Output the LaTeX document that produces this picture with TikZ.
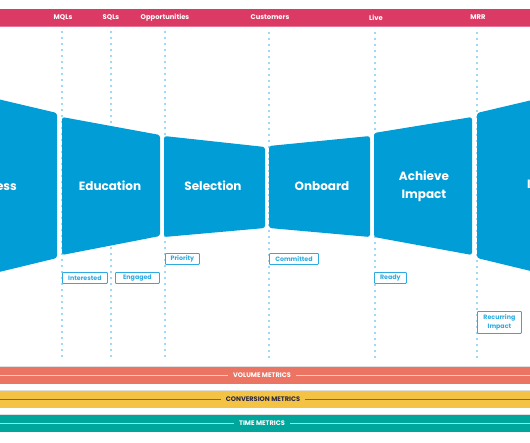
\documentclass[tikz,border=0pt]{standalone}
\usepackage{fontspec}
\setmainfont{Poppins}
\definecolor{pinkbar}{RGB}{218,58,99}
\definecolor{funnel}{RGB}{0,157,214}
\definecolor{dotc}{RGB}{60,178,230}
\definecolor{lblc}{RGB}{45,170,225}
\definecolor{coral}{RGB}{236,116,99}
\definecolor{gold}{RGB}{245,195,67}
\definecolor{tealc}{RGB}{0,166,156}
\definecolor{navy}{RGB}{40,40,70}
\begin{document}
\begin{tikzpicture}[x=1pt,y=-1pt,
  seg/.style={fill=funnel, rounded corners=2.5pt},
  segtext/.style={text=white, font=\bfseries\fontsize{12}{18}\selectfont, align=center, inner sep=0pt},
  toptext/.style={text=white, font=\bfseries\fontsize{6.8}{7}\selectfont, inner sep=0pt},
  dots/.style={dotc, line width=1.6pt, dash pattern=on 0pt off 6pt, line cap=round},
  tag/.style={draw=lblc, line width=0.8pt, fill=white, text=lblc, font=\bfseries\fontsize{6.3}{9}\selectfont, align=center, inner sep=0pt, minimum height=11pt, anchor=north west, rounded corners=0.8pt},
  band/.style={draw=black!12, line width=0.6pt},
  bandtext/.style={font=\bfseries\fontsize{6.6}{7}\selectfont, inner xsep=5pt, inner ysep=0pt},
  lightline/.style={white!65!#1, line width=0.8pt},
]
\useasboundingbox (0,0) rectangle (530,442);
\begin{scope}
\clip (0,0) rectangle (530,442);
% top bar
\fill[pinkbar] (0,9) rectangle (530,26);
\draw[pinkbar!70!white, line width=0.6pt] (0,26) -- (530,26);
\node[toptext] (mql) at (63,17.5) {MQLs};
\node[toptext] (sql) at (111,17.5) {SQLs};
\node[toptext] (opp) at (165,17.5) {Opportunities};
\node[toptext] (cus) at (270,17.5) {Customers};
\node[toptext] (live) at (376,17.5) {Live};
\node[toptext] (mrr) at (478,17.5) {MRR};
% dotted lines
\coordinate (d1t) at (62,32);  \coordinate (d1b) at (62,356);
\coordinate (d2t) at (111,32); \coordinate (d2b) at (111,356);
\coordinate (d3t) at (165,32); \coordinate (d3b) at (165,356);
\coordinate (d4t) at (269,33); \coordinate (d4b) at (269,358);
\coordinate (d5t) at (375,33); \coordinate (d5b) at (375,358);
\coordinate (d6t) at (477,33); \coordinate (d6b) at (477,358);
\foreach \i in {1,...,6} {\draw[dots] (d\i t) -- (d\i b);}
% funnel segments
\fill[seg] (-100,76) -- (57,113) -- (57,258) -- (-100,296) -- cycle;
\fill[seg] (62,117) -- (160,135) -- (160,236) -- (62,255) -- cycle;
\fill[seg] (164,136) -- (265,147) -- (265,228) -- (164,237) -- cycle;
\fill[seg] (269,146) -- (370,136) -- (370,237) -- (269,228) -- cycle;
\fill[seg] (374,133) -- (472,117) -- (472,255) -- (374,237) -- cycle;
\fill[seg] (477,113) -- (634,76) -- (634,296) -- (477,258) -- cycle;
\node[segtext, anchor=east] (aware) at (17,186) {Awareness};
\node[segtext] (edu) at (110,186) {Education};
\node[segtext] (sel) at (213,186) {Selection};
\node[segtext] (onb) at (322,186) {Onboard};
\node[segtext] (ach) at (424,186) {Achieve\\Impact};
\node[segtext, anchor=west] (grow) at (527,186) {Impact};
% tags
\node[tag, minimum width=45pt] (int) at (62,272) {Interested};
\node[tag, minimum width=44pt] (eng) at (115,272) {Engaged};
\node[tag, minimum width=34pt] (pri) at (165,253) {Priority};
\node[tag, minimum width=49pt] (com) at (269,253) {Committed};
\node[tag, minimum width=32pt] (rdy) at (374,272) {Ready};
\node[tag, minimum width=44pt, minimum height=22pt] (rec) at (477,311) {Recurring\\Impact};
% bands
\fill[coral] (0,366) rectangle (530,384);
\draw[band] (0,366) -- (530,366);
\node[bandtext, text=white] (vol) at (262,375) {VOLUME METRICS};
\draw[lightline=coral] (0,375) -- (vol.west) (vol.east) -- (530,375);
\fill[gold] (0,390) rectangle (530,408);
\draw[band] (0,390) -- (530,390);
\node[bandtext, text=navy] (conv) at (263,399) {CONVERSION METRICS};
\draw[black!45!gold, line width=0.8pt] (0,399) -- (conv.west) (conv.east) -- (530,399);
\fill[tealc] (0,414) rectangle (530,432);
\draw[band] (0,414) -- (530,414);
\node[bandtext, text=white] (time) at (262,423) {TIME METRICS};
\draw[lightline=tealc] (0,423) -- (time.west) (time.east) -- (530,423);
\end{scope}
\end{tikzpicture}
\end{document}
